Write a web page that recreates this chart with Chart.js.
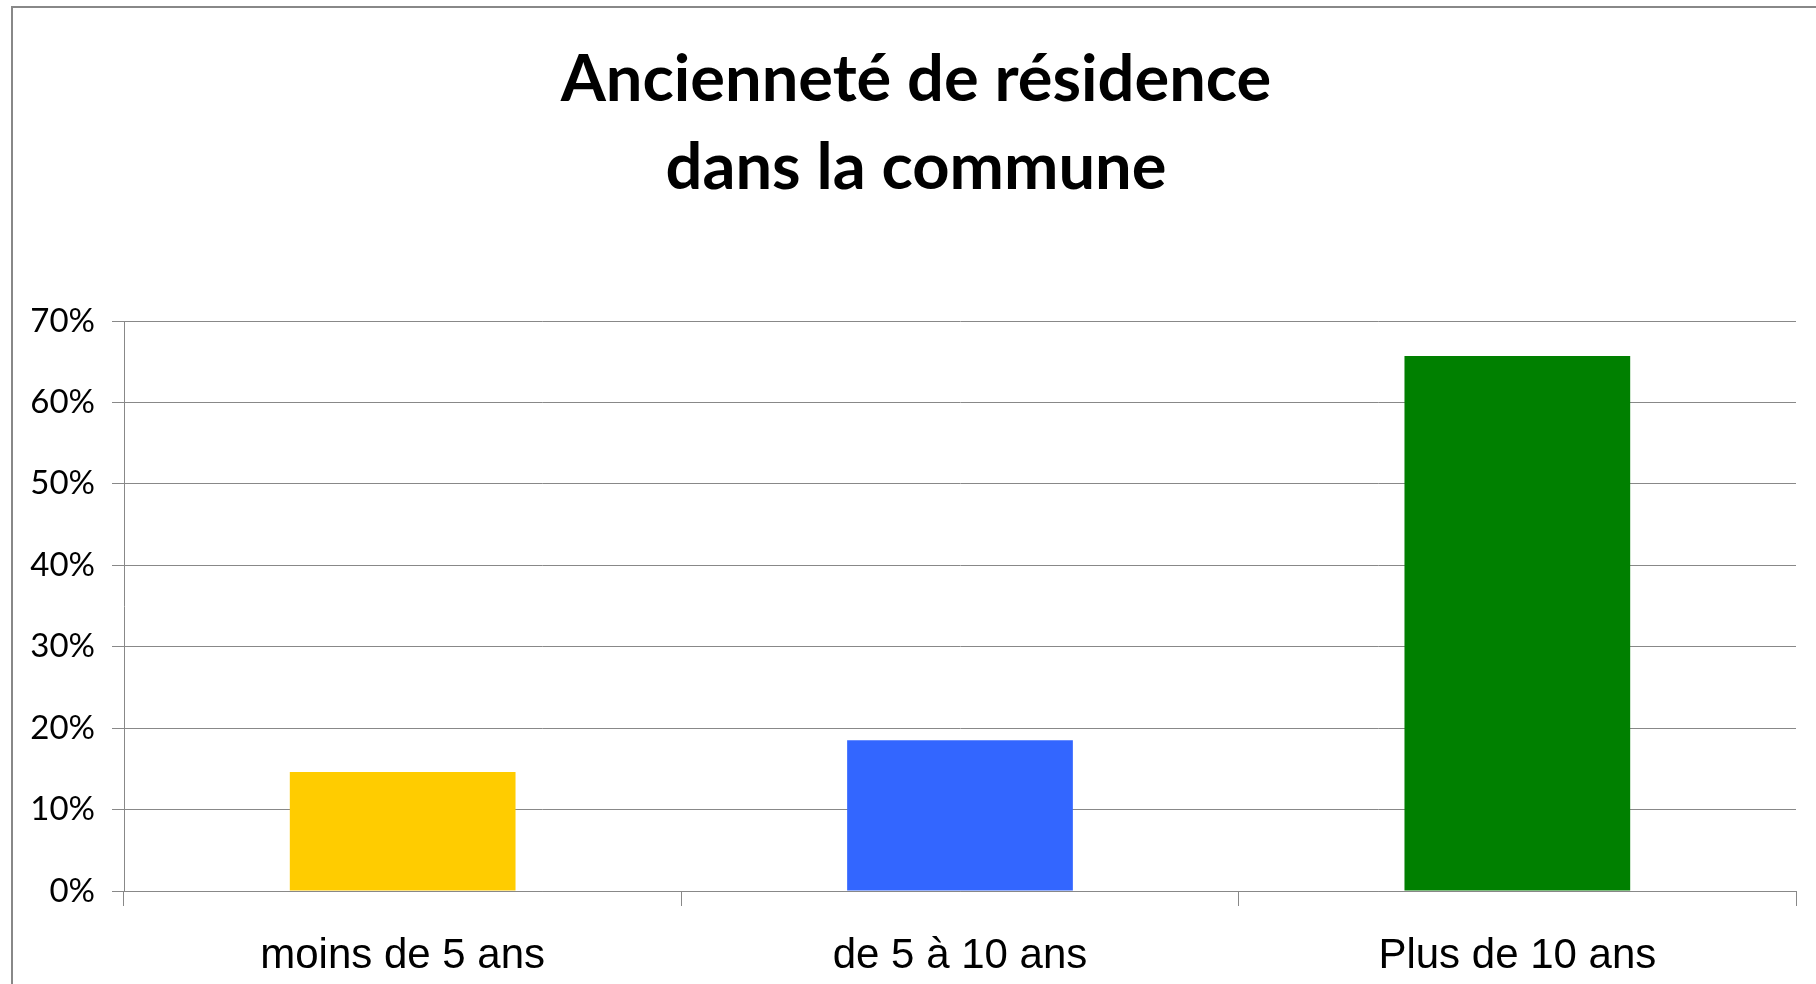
<!DOCTYPE html>
<html lang="fr">
<head>
    <meta charset="UTF-8">
    <title>Ancienneté de résidence</title>
    <style>
        body {
            margin: 0;
            background: #fff;
            overflow: hidden;
        }
        .wrap {
            position: relative;
            width: 1816px;
            height: 984px;
        }
        .frame {
            position: absolute;
            left: 11px;
            top: 6px;
            width: 2000px;
            height: 2000px;
            border-left: 2px solid #888;
            border-top: 2px solid #888;
            pointer-events: none;
        }
    </style>
</head>
<body>
    <div class="wrap">
        <canvas id="chart" width="1816" height="984"></canvas>
        <div class="frame"></div>
    </div>
    <script src="https://cdn.jsdelivr.net/npm/chart.js"></script>
    <script>
        const titleLines = ['Ancienneté de résidence', 'dans la commune'];
        const categories = ['moins de 5 ans', 'de 5 à 10 ans', 'Plus de 10 ans'];
        const shares = [14.6, 18.5, 65.7];   // %
        const barColors = ['#FFCC00', '#3366FF', '#008000'];

        const gridColor = '#888';

        // the title sits a bit right of the canvas centre in the original,
        // so it is drawn here instead of with the built-in title plugin
        const titlePlugin = {
            id: 'offsetTitle',
            afterDraw(chart) {
                const ctx = chart.ctx;
                ctx.save();
                ctx.fillStyle = '#000';
                ctx.font = 'bold 65px Lato';
                ctx.textAlign = 'center';
                ctx.textBaseline = 'middle';
                titleLines.forEach((line, i) => {
                    ctx.fillText(line, 916, 80.5 + i * 87.1);
                });
                ctx.restore();
            }
        };

        new Chart(document.getElementById('chart').getContext('2d'), {
            type: 'bar',
            data: {
                labels: categories,
                datasets: [{
                    data: shares,
                    backgroundColor: barColors,
                    borderWidth: 0,
                    categoryPercentage: 1,
                    barPercentage: 0.405
                }]
            },
            options: {
                responsive: false,
                animation: false,
                layout: {
                    padding: { left: 0, right: 20, top: 321, bottom: 0 }
                },
                plugins: {
                    legend: { display: false },
                    tooltip: { enabled: false },
                    title: { display: false }
                },
                scales: {
                    x: {
                        afterFit: (scale) => { scale.height = 93; },
                        grid: {
                            display: true,
                            drawOnChartArea: false,
                            drawTicks: true,
                            tickLength: 15,
                            color: gridColor,
                            offset: true
                        },
                        border: { display: true, color: gridColor, width: 1 },
                        ticks: {
                            color: '#000',
                            padding: 25,
                            maxRotation: 0,
                            font: { family: 'Liberation Sans', size: 42, lineHeight: 1.2 }
                        }
                    },
                    y: {
                        min: 0,
                        max: 70,
                        afterFit: (scale) => { scale.width = 124; },
                        grid: {
                            color: gridColor,
                            tickLength: 12,
                            drawTicks: true
                        },
                        border: { display: true, color: gridColor, width: 1 },
                        ticks: {
                            stepSize: 10,
                            color: '#000',
                            padding: 17,
                            font: { family: 'Lato', size: 33 },
                            callback: (v) => v + '%'
                        }
                    }
                }
            },
            plugins: [titlePlugin]
        });
    </script>
</body>
</html>
